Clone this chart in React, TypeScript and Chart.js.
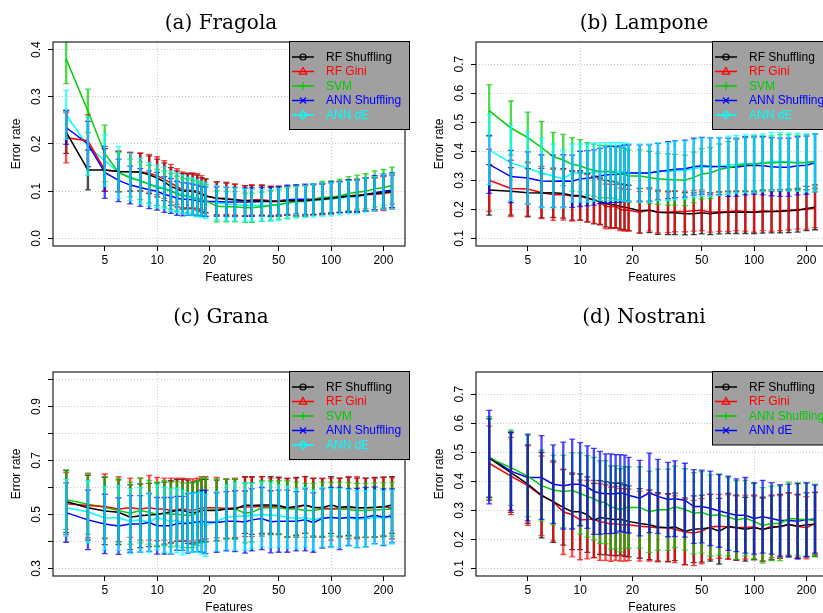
import React, { useEffect, useRef } from 'react';
import { Chart, registerables } from 'chart.js';

Chart.register(...registerables);

// ---------------- DATA ----------------
const FEATURES = [3, 4, 5, 6, 7, 8, 9, 10, 11, 12, 13, 14, 15, 16, 17, 18, 19, 22, 25, 28, 32, 35, 40, 45, 50, 56, 63, 71, 79, 89, 100, 112, 126, 141, 158, 178, 200, 224];
const X_TICKS = [5, 10, 20, 50, 100, 200];
const X_GRID = [10, 100];

// (a) Fragola
const FRAGOLA_RF_SHUFFLING = [0.225, 0.145, 0.145, 0.142, 0.141, 0.140, 0.135, 0.128, 0.120, 0.110, 0.105, 0.100, 0.100, 0.100, 0.097, 0.093, 0.090, 0.085, 0.083, 0.082, 0.080, 0.080, 0.080, 0.078, 0.078, 0.080, 0.080, 0.080, 0.082, 0.083, 0.085, 0.087, 0.090, 0.090, 0.093, 0.095, 0.097, 0.100];
const FRAGOLA_RF_SHUFFLING_SD = [0.045, 0.042, 0.045, 0.043, 0.041, 0.040, 0.040, 0.040, 0.040, 0.040, 0.038, 0.038, 0.037, 0.037, 0.037, 0.036, 0.036, 0.035, 0.034, 0.033, 0.032, 0.032, 0.032, 0.032, 0.031, 0.031, 0.032, 0.032, 0.032, 0.032, 0.033, 0.033, 0.034, 0.034, 0.035, 0.035, 0.036, 0.036];
const FRAGOLA_RF_GINI = [0.213, 0.207, 0.145, 0.142, 0.141, 0.141, 0.138, 0.133, 0.125, 0.117, 0.110, 0.103, 0.102, 0.102, 0.100, 0.097, 0.090, 0.085, 0.085, 0.082, 0.080, 0.082, 0.082, 0.080, 0.080, 0.080, 0.080, 0.080, 0.082, 0.083, 0.085, 0.088, 0.090, 0.092, 0.093, 0.093, 0.095, 0.098];
const FRAGOLA_RF_GINI_SD = [0.053, 0.055, 0.045, 0.043, 0.041, 0.040, 0.040, 0.040, 0.040, 0.040, 0.038, 0.038, 0.037, 0.037, 0.037, 0.036, 0.036, 0.035, 0.034, 0.033, 0.032, 0.032, 0.032, 0.031, 0.031, 0.031, 0.032, 0.032, 0.032, 0.033, 0.033, 0.033, 0.034, 0.034, 0.035, 0.035, 0.036, 0.036];
const FRAGOLA_SVM = [0.380, 0.270, 0.180, 0.140, 0.128, 0.122, 0.115, 0.108, 0.105, 0.100, 0.095, 0.090, 0.090, 0.087, 0.085, 0.082, 0.080, 0.068, 0.067, 0.067, 0.065, 0.065, 0.067, 0.070, 0.072, 0.075, 0.078, 0.080, 0.083, 0.087, 0.088, 0.090, 0.095, 0.098, 0.100, 0.105, 0.108, 0.112];
const FRAGOLA_SVM_SD = [0.052, 0.046, 0.060, 0.042, 0.040, 0.040, 0.040, 0.038, 0.038, 0.038, 0.037, 0.037, 0.036, 0.036, 0.035, 0.035, 0.034, 0.033, 0.032, 0.032, 0.031, 0.031, 0.031, 0.031, 0.031, 0.032, 0.032, 0.033, 0.033, 0.034, 0.034, 0.035, 0.036, 0.036, 0.037, 0.038, 0.038, 0.039];
const FRAGOLA_ANN_SHUFFLING = [0.235, 0.200, 0.140, 0.123, 0.113, 0.108, 0.103, 0.100, 0.093, 0.090, 0.085, 0.083, 0.083, 0.082, 0.080, 0.078, 0.078, 0.078, 0.077, 0.077, 0.077, 0.077, 0.078, 0.078, 0.080, 0.082, 0.083, 0.083, 0.083, 0.085, 0.087, 0.088, 0.090, 0.090, 0.093, 0.097, 0.100, 0.102];
const FRAGOLA_ANN_SHUFFLING_SD = [0.036, 0.048, 0.055, 0.045, 0.040, 0.040, 0.040, 0.040, 0.038, 0.037, 0.036, 0.035, 0.034, 0.033, 0.033, 0.032, 0.031, 0.031, 0.031, 0.031, 0.030, 0.030, 0.030, 0.030, 0.030, 0.031, 0.031, 0.032, 0.032, 0.032, 0.033, 0.033, 0.034, 0.034, 0.035, 0.036, 0.036, 0.037];
const FRAGOLA_ANN_DE = [0.262, 0.195, 0.165, 0.140, 0.130, 0.122, 0.115, 0.110, 0.107, 0.100, 0.097, 0.093, 0.090, 0.088, 0.085, 0.083, 0.080, 0.075, 0.073, 0.072, 0.070, 0.070, 0.070, 0.070, 0.072, 0.075, 0.077, 0.078, 0.080, 0.082, 0.083, 0.085, 0.087, 0.088, 0.092, 0.095, 0.098, 0.100];
const FRAGOLA_ANN_DE_SD = [0.052, 0.062, 0.055, 0.055, 0.050, 0.048, 0.046, 0.045, 0.044, 0.043, 0.042, 0.041, 0.040, 0.040, 0.039, 0.038, 0.038, 0.037, 0.036, 0.035, 0.035, 0.034, 0.034, 0.034, 0.034, 0.034, 0.034, 0.034, 0.035, 0.035, 0.035, 0.035, 0.035, 0.036, 0.036, 0.036, 0.037, 0.037];

// (b) Lampone
const LAMPONE_RF_SHUFFLING = [0.267, 0.262, 0.257, 0.256, 0.257, 0.255, 0.248, 0.248, 0.240, 0.232, 0.228, 0.220, 0.217, 0.215, 0.210, 0.207, 0.205, 0.195, 0.197, 0.190, 0.188, 0.188, 0.185, 0.185, 0.188, 0.185, 0.188, 0.190, 0.190, 0.190, 0.190, 0.192, 0.193, 0.193, 0.195, 0.197, 0.203, 0.207];
const LAMPONE_RF_SHUFFLING_SD = [0.087, 0.082, 0.083, 0.085, 0.085, 0.085, 0.085, 0.085, 0.083, 0.082, 0.080, 0.080, 0.080, 0.079, 0.078, 0.078, 0.078, 0.077, 0.077, 0.076, 0.075, 0.075, 0.073, 0.072, 0.072, 0.072, 0.072, 0.073, 0.073, 0.073, 0.073, 0.074, 0.074, 0.074, 0.075, 0.075, 0.076, 0.077];
const LAMPONE_RF_GINI = [0.300, 0.272, 0.270, 0.258, 0.250, 0.250, 0.245, 0.245, 0.238, 0.232, 0.225, 0.210, 0.210, 0.210, 0.200, 0.197, 0.197, 0.190, 0.198, 0.190, 0.190, 0.193, 0.193, 0.195, 0.197, 0.190, 0.192, 0.192, 0.195, 0.193, 0.190, 0.195, 0.193, 0.195, 0.197, 0.200, 0.200, 0.205];
const LAMPONE_RF_GINI_SD = [0.107, 0.097, 0.093, 0.090, 0.088, 0.087, 0.085, 0.083, 0.082, 0.080, 0.078, 0.077, 0.076, 0.075, 0.073, 0.072, 0.072, 0.072, 0.072, 0.071, 0.070, 0.070, 0.070, 0.070, 0.070, 0.068, 0.068, 0.068, 0.068, 0.068, 0.068, 0.068, 0.068, 0.068, 0.068, 0.068, 0.068, 0.068];
const LAMPONE_SVM = [0.540, 0.480, 0.447, 0.413, 0.382, 0.370, 0.355, 0.350, 0.340, 0.335, 0.330, 0.330, 0.330, 0.325, 0.322, 0.320, 0.315, 0.315, 0.310, 0.305, 0.303, 0.302, 0.300, 0.310, 0.322, 0.325, 0.337, 0.343, 0.350, 0.355, 0.355, 0.360, 0.360, 0.362, 0.362, 0.360, 0.362, 0.365];
const LAMPONE_SVM_SD = [0.089, 0.093, 0.088, 0.090, 0.083, 0.088, 0.092, 0.090, 0.090, 0.090, 0.090, 0.090, 0.090, 0.090, 0.090, 0.090, 0.090, 0.090, 0.090, 0.088, 0.088, 0.087, 0.087, 0.087, 0.087, 0.088, 0.088, 0.090, 0.090, 0.092, 0.092, 0.093, 0.093, 0.095, 0.095, 0.095, 0.095, 0.095];
const LAMPONE_ANN_SHUFFLING = [0.355, 0.313, 0.308, 0.298, 0.297, 0.298, 0.297, 0.305, 0.307, 0.310, 0.315, 0.318, 0.320, 0.320, 0.322, 0.325, 0.325, 0.325, 0.325, 0.330, 0.335, 0.338, 0.340, 0.347, 0.350, 0.348, 0.348, 0.345, 0.345, 0.350, 0.352, 0.350, 0.347, 0.345, 0.345, 0.350, 0.352, 0.360];
const LAMPONE_ANN_SHUFFLING_SD = [0.100, 0.090, 0.090, 0.090, 0.090, 0.090, 0.090, 0.095, 0.095, 0.095, 0.095, 0.097, 0.097, 0.097, 0.097, 0.097, 0.097, 0.097, 0.097, 0.097, 0.098, 0.098, 0.098, 0.098, 0.098, 0.098, 0.098, 0.100, 0.100, 0.100, 0.100, 0.100, 0.100, 0.100, 0.100, 0.100, 0.100, 0.100];
const LAMPONE_ANN_DE = [0.405, 0.360, 0.342, 0.325, 0.315, 0.305, 0.325, 0.325, 0.325, 0.328, 0.330, 0.330, 0.330, 0.330, 0.330, 0.328, 0.327, 0.325, 0.325, 0.330, 0.330, 0.333, 0.335, 0.340, 0.345, 0.345, 0.348, 0.352, 0.355, 0.357, 0.357, 0.360, 0.365, 0.365, 0.363, 0.362, 0.360, 0.360];
const LAMPONE_ANN_DE_SD = [0.120, 0.130, 0.125, 0.120, 0.110, 0.100, 0.100, 0.100, 0.100, 0.100, 0.100, 0.100, 0.100, 0.100, 0.100, 0.100, 0.100, 0.100, 0.100, 0.100, 0.100, 0.100, 0.100, 0.100, 0.100, 0.100, 0.100, 0.100, 0.100, 0.100, 0.100, 0.100, 0.100, 0.100, 0.100, 0.100, 0.100, 0.100];

// (c) Grana
const GRANA_RF_SHUFFLING = [0.548, 0.525, 0.513, 0.508, 0.490, 0.495, 0.498, 0.500, 0.505, 0.510, 0.515, 0.515, 0.510, 0.505, 0.510, 0.515, 0.515, 0.515, 0.520, 0.520, 0.535, 0.533, 0.535, 0.535, 0.533, 0.525, 0.530, 0.535, 0.527, 0.525, 0.535, 0.527, 0.530, 0.525, 0.525, 0.527, 0.528, 0.535];
const GRANA_RF_SHUFFLING_SD = [0.115, 0.120, 0.125, 0.120, 0.120, 0.118, 0.117, 0.117, 0.115, 0.115, 0.115, 0.115, 0.117, 0.115, 0.115, 0.115, 0.115, 0.112, 0.110, 0.110, 0.105, 0.107, 0.105, 0.105, 0.105, 0.108, 0.107, 0.105, 0.107, 0.108, 0.105, 0.108, 0.108, 0.110, 0.110, 0.110, 0.110, 0.105];
const GRANA_RF_GINI = [0.540, 0.533, 0.530, 0.520, 0.525, 0.520, 0.525, 0.520, 0.520, 0.515, 0.518, 0.520, 0.518, 0.515, 0.520, 0.523, 0.525, 0.525, 0.522, 0.525, 0.528, 0.528, 0.530, 0.530, 0.530, 0.525, 0.525, 0.535, 0.525, 0.525, 0.520, 0.525, 0.525, 0.525, 0.525, 0.525, 0.530, 0.523];
const GRANA_RF_GINI_SD = [0.115, 0.120, 0.120, 0.120, 0.110, 0.115, 0.120, 0.117, 0.115, 0.120, 0.117, 0.115, 0.115, 0.117, 0.115, 0.117, 0.115, 0.112, 0.110, 0.110, 0.110, 0.110, 0.110, 0.105, 0.105, 0.110, 0.110, 0.105, 0.110, 0.110, 0.115, 0.110, 0.115, 0.115, 0.110, 0.110, 0.108, 0.113];
const GRANA_SVM = [0.555, 0.538, 0.527, 0.515, 0.505, 0.515, 0.508, 0.500, 0.505, 0.500, 0.503, 0.497, 0.497, 0.497, 0.505, 0.515, 0.517, 0.517, 0.520, 0.520, 0.505, 0.508, 0.525, 0.525, 0.525, 0.520, 0.520, 0.515, 0.515, 0.520, 0.520, 0.520, 0.518, 0.515, 0.515, 0.517, 0.518, 0.520];
const GRANA_SVM_SD = [0.110, 0.112, 0.113, 0.120, 0.115, 0.120, 0.118, 0.120, 0.120, 0.120, 0.120, 0.120, 0.120, 0.120, 0.120, 0.120, 0.120, 0.115, 0.110, 0.110, 0.110, 0.110, 0.100, 0.100, 0.100, 0.105, 0.100, 0.100, 0.100, 0.100, 0.100, 0.100, 0.100, 0.100, 0.100, 0.100, 0.100, 0.100];
const GRANA_ANN_SHUFFLING = [0.507, 0.480, 0.465, 0.457, 0.465, 0.465, 0.470, 0.458, 0.458, 0.458, 0.467, 0.467, 0.467, 0.470, 0.472, 0.475, 0.472, 0.470, 0.475, 0.475, 0.472, 0.480, 0.485, 0.473, 0.475, 0.475, 0.475, 0.480, 0.470, 0.485, 0.490, 0.485, 0.490, 0.487, 0.490, 0.497, 0.490, 0.495];
const GRANA_ANN_SHUFFLING_SD = [0.110, 0.110, 0.110, 0.105, 0.105, 0.105, 0.107, 0.105, 0.105, 0.105, 0.100, 0.100, 0.110, 0.110, 0.110, 0.115, 0.117, 0.110, 0.110, 0.113, 0.115, 0.115, 0.115, 0.115, 0.115, 0.115, 0.110, 0.115, 0.110, 0.110, 0.110, 0.115, 0.105, 0.110, 0.110, 0.105, 0.105, 0.100];
const GRANA_ANN_DE = [0.525, 0.510, 0.487, 0.487, 0.475, 0.480, 0.470, 0.490, 0.480, 0.475, 0.478, 0.470, 0.470, 0.470, 0.470, 0.467, 0.460, 0.475, 0.490, 0.493, 0.493, 0.495, 0.500, 0.497, 0.495, 0.490, 0.485, 0.490, 0.480, 0.490, 0.487, 0.487, 0.487, 0.483, 0.483, 0.490, 0.487, 0.490];
const GRANA_ANN_DE_SD = [0.105, 0.115, 0.117, 0.120, 0.120, 0.120, 0.110, 0.120, 0.120, 0.120, 0.120, 0.120, 0.110, 0.110, 0.110, 0.115, 0.115, 0.110, 0.120, 0.125, 0.125, 0.120, 0.120, 0.120, 0.115, 0.115, 0.110, 0.110, 0.110, 0.110, 0.110, 0.110, 0.105, 0.105, 0.105, 0.100, 0.100, 0.100];

// (d) Nostrani
const NOSTRANI_RF_SHUFFLING = [0.480, 0.430, 0.390, 0.352, 0.330, 0.310, 0.295, 0.295, 0.285, 0.265, 0.275, 0.273, 0.270, 0.268, 0.270, 0.265, 0.262, 0.255, 0.250, 0.243, 0.240, 0.243, 0.228, 0.235, 0.237, 0.240, 0.228, 0.245, 0.240, 0.235, 0.240, 0.235, 0.240, 0.245, 0.250, 0.245, 0.250, 0.252];
const NOSTRANI_RF_SHUFFLING_SD = [0.135, 0.137, 0.135, 0.147, 0.140, 0.130, 0.130, 0.130, 0.130, 0.128, 0.127, 0.126, 0.125, 0.125, 0.124, 0.123, 0.122, 0.120, 0.120, 0.118, 0.117, 0.116, 0.115, 0.115, 0.115, 0.115, 0.113, 0.113, 0.112, 0.110, 0.110, 0.110, 0.110, 0.110, 0.110, 0.110, 0.110, 0.110];
const NOSTRANI_RF_GINI = [0.462, 0.418, 0.385, 0.350, 0.330, 0.295, 0.285, 0.267, 0.268, 0.270, 0.260, 0.258, 0.252, 0.255, 0.250, 0.250, 0.250, 0.245, 0.243, 0.240, 0.240, 0.235, 0.225, 0.222, 0.228, 0.243, 0.245, 0.243, 0.240, 0.242, 0.243, 0.233, 0.245, 0.243, 0.252, 0.245, 0.240, 0.255];
const NOSTRANI_RF_GINI_SD = [0.128, 0.133, 0.137, 0.137, 0.135, 0.147, 0.145, 0.137, 0.135, 0.133, 0.132, 0.130, 0.128, 0.127, 0.125, 0.125, 0.123, 0.120, 0.118, 0.117, 0.116, 0.115, 0.113, 0.112, 0.112, 0.112, 0.110, 0.110, 0.110, 0.110, 0.110, 0.108, 0.108, 0.108, 0.108, 0.107, 0.107, 0.107];
const NOSTRANI_ANN_SHUFFLING = [0.480, 0.447, 0.418, 0.385, 0.370, 0.365, 0.368, 0.358, 0.348, 0.340, 0.328, 0.328, 0.310, 0.310, 0.300, 0.310, 0.310, 0.310, 0.295, 0.302, 0.302, 0.312, 0.303, 0.290, 0.293, 0.282, 0.285, 0.278, 0.267, 0.273, 0.262, 0.248, 0.255, 0.255, 0.272, 0.270, 0.268, 0.265];
const NOSTRANI_ANN_SHUFFLING_SD = [0.142, 0.130, 0.140, 0.122, 0.120, 0.125, 0.130, 0.140, 0.140, 0.142, 0.142, 0.143, 0.143, 0.143, 0.143, 0.140, 0.140, 0.140, 0.140, 0.140, 0.140, 0.140, 0.140, 0.140, 0.140, 0.140, 0.140, 0.135, 0.135, 0.130, 0.130, 0.130, 0.128, 0.128, 0.125, 0.125, 0.125, 0.125];
const NOSTRANI_ANN_DE = [0.483, 0.435, 0.413, 0.413, 0.390, 0.385, 0.390, 0.390, 0.380, 0.365, 0.360, 0.357, 0.357, 0.357, 0.360, 0.357, 0.352, 0.342, 0.360, 0.348, 0.337, 0.340, 0.335, 0.313, 0.313, 0.307, 0.298, 0.290, 0.283, 0.283, 0.272, 0.278, 0.272, 0.265, 0.265, 0.262, 0.268, 0.270];
const NOSTRANI_ANN_DE_SD = [0.161, 0.135, 0.149, 0.144, 0.135, 0.150, 0.155, 0.143, 0.142, 0.148, 0.143, 0.137, 0.137, 0.135, 0.132, 0.133, 0.130, 0.130, 0.137, 0.127, 0.128, 0.130, 0.127, 0.127, 0.125, 0.128, 0.125, 0.128, 0.125, 0.130, 0.123, 0.125, 0.123, 0.123, 0.125, 0.130, 0.127, 0.117];

const Y_TICKS_A = [0.0, 0.1, 0.2, 0.3, 0.4];
const Y_LABELS_A = ['0.0', '0.1', '0.2', '0.3', '0.4'];
const Y_TICKS_B = [0.1, 0.2, 0.3, 0.4, 0.5, 0.6, 0.7];
const Y_LABELS_B = ['0.1', '0.2', '0.3', '0.4', '0.5', '0.6', '0.7'];
const Y_TICKS_C = [0.3, 0.4, 0.5, 0.6, 0.7, 0.8, 0.9, 1.0];
const Y_LABELS_C = ['0.3', '', '0.5', '', '0.7', '', '0.9', ''];

// ---------------- STYLE ----------------
const BLACK = '#000000';
const RED = '#FF0000';
const GREEN = '#00CD00';
const BLUE = '#0000FF';
const CYAN = '#00FFFF';
const SANS = "'Liberation Sans', Arial, Helvetica, sans-serif";
const SERIF = "'DejaVu Serif', serif";

type Series = { label: string; color: string; marker: string; mean: number[]; sd: number[] };
type PanelCfg = {
  title: string; left: number; top: number; width: number; height: number; areaTop: number; titleY: number;
  yMin: number; yMax: number; yTicks: number[]; yLabels: string[]; series: Series[];
};

const PANELS: PanelCfg[] = [
  {
    title: '(a) Fragola', left: 0, top: 0, width: 423, height: 300, areaTop: 42, titleY: 24,
    yMin: -0.016, yMax: 0.416, yTicks: Y_TICKS_A, yLabels: Y_LABELS_A,
    series: [
      { label: 'RF Shuffling', color: BLACK, marker: 'circle', mean: FRAGOLA_RF_SHUFFLING, sd: FRAGOLA_RF_SHUFFLING_SD },
      { label: 'RF Gini', color: RED, marker: 'triangle', mean: FRAGOLA_RF_GINI, sd: FRAGOLA_RF_GINI_SD },
      { label: 'SVM', color: GREEN, marker: 'plus', mean: FRAGOLA_SVM, sd: FRAGOLA_SVM_SD },
      { label: 'ANN Shuffling', color: BLUE, marker: 'cross', mean: FRAGOLA_ANN_SHUFFLING, sd: FRAGOLA_ANN_SHUFFLING_SD },
      { label: 'ANN dE', color: CYAN, marker: 'diamond', mean: FRAGOLA_ANN_DE, sd: FRAGOLA_ANN_DE_SD },
    ],
  },
  {
    title: '(b) Lampone', left: 423, top: 0, width: 423, height: 300, areaTop: 42, titleY: 24,
    yMin: 0.074, yMax: 0.776, yTicks: Y_TICKS_B, yLabels: Y_LABELS_B,
    series: [
      { label: 'RF Shuffling', color: BLACK, marker: 'circle', mean: LAMPONE_RF_SHUFFLING, sd: LAMPONE_RF_SHUFFLING_SD },
      { label: 'RF Gini', color: RED, marker: 'triangle', mean: LAMPONE_RF_GINI, sd: LAMPONE_RF_GINI_SD },
      { label: 'SVM', color: GREEN, marker: 'plus', mean: LAMPONE_SVM, sd: LAMPONE_SVM_SD },
      { label: 'ANN Shuffling', color: BLUE, marker: 'cross', mean: LAMPONE_ANN_SHUFFLING, sd: LAMPONE_ANN_SHUFFLING_SD },
      { label: 'ANN dE', color: CYAN, marker: 'diamond', mean: LAMPONE_ANN_DE, sd: LAMPONE_ANN_DE_SD },
    ],
  },
  {
    title: '(c) Grana', left: 0, top: 300, width: 423, height: 313, areaTop: 72, titleY: 18,
    yMin: 0.272, yMax: 1.028, yTicks: Y_TICKS_C, yLabels: Y_LABELS_C,
    series: [
      { label: 'RF Shuffling', color: BLACK, marker: 'circle', mean: GRANA_RF_SHUFFLING, sd: GRANA_RF_SHUFFLING_SD },
      { label: 'RF Gini', color: RED, marker: 'triangle', mean: GRANA_RF_GINI, sd: GRANA_RF_GINI_SD },
      { label: 'SVM', color: GREEN, marker: 'plus', mean: GRANA_SVM, sd: GRANA_SVM_SD },
      { label: 'ANN Shuffling', color: BLUE, marker: 'cross', mean: GRANA_ANN_SHUFFLING, sd: GRANA_ANN_SHUFFLING_SD },
      { label: 'ANN dE', color: CYAN, marker: 'diamond', mean: GRANA_ANN_DE, sd: GRANA_ANN_DE_SD },
    ],
  },
  {
    title: '(d) Nostrani', left: 423, top: 300, width: 423, height: 313, areaTop: 72, titleY: 18,
    yMin: 0.074, yMax: 0.776, yTicks: Y_TICKS_B, yLabels: Y_LABELS_B,
    series: [
      { label: 'RF Shuffling', color: BLACK, marker: 'circle', mean: NOSTRANI_RF_SHUFFLING, sd: NOSTRANI_RF_SHUFFLING_SD },
      { label: 'RF Gini', color: RED, marker: 'triangle', mean: NOSTRANI_RF_GINI, sd: NOSTRANI_RF_GINI_SD },
      { label: 'ANN Shuffling', color: GREEN, marker: 'plus', mean: NOSTRANI_ANN_SHUFFLING, sd: NOSTRANI_ANN_SHUFFLING_SD },
      { label: 'ANN dE', color: BLUE, marker: 'cross', mean: NOSTRANI_ANN_DE, sd: NOSTRANI_ANN_DE_SD },
    ],
  },
];

function withAlpha(hex: string, a: number) {
  const r = parseInt(hex.slice(1, 3), 16), g = parseInt(hex.slice(3, 5), 16), b = parseInt(hex.slice(5, 7), 16);
  return `rgba(${r},${g},${b},${a})`;
}

function drawMarker(ctx: CanvasRenderingContext2D, kind: string, x: number, y: number, color: string) {
  ctx.save();
  ctx.strokeStyle = color;
  ctx.lineWidth = 1.2;
  ctx.beginPath();
  if (kind === 'circle') {
    ctx.arc(x, y, 3, 0, Math.PI * 2);
  } else if (kind === 'triangle') {
    ctx.moveTo(x, y - 4); ctx.lineTo(x + 3.8, y + 2.6); ctx.lineTo(x - 3.8, y + 2.6); ctx.closePath();
  } else if (kind === 'plus') {
    ctx.moveTo(x - 4, y); ctx.lineTo(x + 4, y); ctx.moveTo(x, y - 4); ctx.lineTo(x, y + 4);
  } else if (kind === 'cross') {
    ctx.moveTo(x - 3, y - 3); ctx.lineTo(x + 3, y + 3); ctx.moveTo(x - 3, y + 3); ctx.lineTo(x + 3, y - 3);
  } else if (kind === 'diamond') {
    ctx.moveTo(x, y - 4); ctx.lineTo(x + 4, y); ctx.lineTo(x, y + 4); ctx.lineTo(x - 4, y); ctx.closePath();
  }
  ctx.stroke();
  ctx.restore();
}

function makeDecor(cfg: PanelCfg) {
  return {
    id: 'decor',
    afterDatasetsDraw(chart: any) {
      const { ctx, chartArea } = chart;
      const xs = chart.scales.x, ys = chart.scales.y;
      ctx.save();
      ctx.beginPath();
      ctx.rect(chartArea.left, chartArea.top, chartArea.right - chartArea.left, chartArea.bottom - chartArea.top);
      ctx.clip();
      for (const s of cfg.series) {
        ctx.strokeStyle = withAlpha(s.color, 0.7);
        for (let i = 0; i < FEATURES.length; i++) {
          const px = xs.getPixelForValue(FEATURES[i]);
          const lo = ys.getPixelForValue(s.mean[i] - s.sd[i]);
          const hi = ys.getPixelForValue(s.mean[i] + s.sd[i]);
          ctx.lineWidth = 2.4;
          ctx.beginPath();
          ctx.moveTo(px, lo); ctx.lineTo(px, hi);
          ctx.stroke();
          ctx.lineWidth = 1.3;
          ctx.beginPath();
          ctx.moveTo(px - 3, lo); ctx.lineTo(px + 3, lo);
          ctx.moveTo(px - 3, hi); ctx.lineTo(px + 3, hi);
          ctx.stroke();
        }
      }
      ctx.restore();
    },
    afterDraw(chart: any) {
      const { ctx, chartArea } = chart;
      const ys = chart.scales.y;
      ctx.save();
      // frame
      ctx.strokeStyle = '#222';
      ctx.lineWidth = 1.2;
      ctx.strokeRect(chartArea.left, chartArea.top, chartArea.right - chartArea.left, chartArea.bottom - chartArea.top);
      // y tick labels (rotated)
      ctx.fillStyle = '#000';
      ctx.font = `12px ${SANS}`;
      ctx.textAlign = 'center';
      ctx.textBaseline = 'middle';
      cfg.yTicks.forEach((v, i) => {
        const lab = cfg.yLabels[i];
        if (!lab) return;
        const py = ys.getPixelForValue(v);
        ctx.save();
        ctx.translate(37, py);
        ctx.rotate(-Math.PI / 2);
        ctx.fillText(lab, 0, 0);
        ctx.restore();
      });
      // axis titles
      const midY = (chartArea.top + chartArea.bottom) / 2;
      ctx.save();
      ctx.translate(17, midY);
      ctx.rotate(-Math.PI / 2);
      ctx.fillText('Error rate', 0, 0);
      ctx.restore();
      ctx.fillText('Features', (chartArea.left + chartArea.right) / 2, chartArea.bottom + 31.5);
      // panel title
      ctx.font = `20px ${SERIF}`;
      ctx.fillText(cfg.title, 221, cfg.titleY);
      // legend
      const n = cfg.series.length;
      const bx = 289.5, by = chartArea.top - 0.5, bw = 120, bh = 15.5 + 14.5 * n;
      ctx.fillStyle = '#A0A0A0';
      ctx.fillRect(bx, by, bw, bh);
      ctx.strokeStyle = '#000';
      ctx.lineWidth = 1;
      ctx.strokeRect(bx, by, bw, bh);
      ctx.font = `12px ${SANS}`;
      ctx.textAlign = 'left';
      cfg.series.forEach((s, i) => {
        const ry = by + 15.5 + 14.5 * i;
        ctx.strokeStyle = s.color;
        ctx.lineWidth = 1.5;
        ctx.beginPath();
        ctx.moveTo(292, ry); ctx.lineTo(314, ry);
        ctx.stroke();
        drawMarker(ctx, s.marker, 303, ry, s.color);
        ctx.fillStyle = s.color;
        ctx.fillText(s.label, 326, ry + 0.5);
      });
      ctx.restore();
    },
  };
}

function Panel({ cfg }: { cfg: PanelCfg }) {
  const ref = useRef<HTMLCanvasElement>(null);
  useEffect(() => {
    const xHeight = cfg.height - (cfg.areaTop + 204);
    const chart = new Chart(ref.current as HTMLCanvasElement, {
      type: 'line',
      data: {
        datasets: cfg.series.map((s) => ({
          label: s.label,
          data: FEATURES.map((x, i) => ({ x, y: s.mean[i] })),
          borderColor: s.color,
          backgroundColor: s.color,
          borderWidth: 1.5,
          pointRadius: 0,
          tension: 0,
          fill: false,
        })),
      },
      options: {
        animation: false,
        responsive: false,
        events: [],
        layout: { padding: { top: cfg.areaTop, right: 18, left: 0, bottom: 0 } },
        plugins: { legend: { display: false }, tooltip: { enabled: false }, title: { display: false } },
        scales: {
          x: {
            type: 'logarithmic',
            min: 2.52,
            max: 266,
            afterBuildTicks: (s: any) => { s.ticks = X_TICKS.map((v) => ({ value: v })); },
            afterFit: (s: any) => { s.height = xHeight; },
            border: { display: false, dash: [1, 2] },
            grid: {
              color: (c: any) => (c.tick && X_GRID.includes(c.tick.value) ? '#C8C8C8' : 'rgba(0,0,0,0)'),
              tickColor: '#000',
              tickLength: 5,
              tickWidth: 1,
              tickBorderDash: [],
              lineWidth: 1,
            },
            ticks: {
              autoSkip: false,
              maxRotation: 0,
              minRotation: 0,
              padding: 2,
              color: '#000',
              font: { family: SANS, size: 12 },
              callback: (v: any) => String(v),
            },
          },
          y: {
            type: 'linear',
            min: cfg.yMin,
            max: cfg.yMax,
            afterBuildTicks: (s: any) => { s.ticks = cfg.yTicks.map((v) => ({ value: v })); },
            afterFit: (s: any) => { s.width = 53; },
            border: { display: false, dash: [1, 2] },
            grid: { color: '#C8C8C8', tickColor: '#000', tickLength: 5, tickWidth: 1, tickBorderDash: [], lineWidth: 1 },
            ticks: { display: false },
          },
        },
      } as any,
      plugins: [makeDecor(cfg)],
    });
    return () => chart.destroy();
  }, []);
  return (
    <canvas
      ref={ref}
      width={cfg.width}
      height={cfg.height}
      style={{ position: 'absolute', left: cfg.left, top: cfg.top, width: cfg.width, height: cfg.height }}
    />
  );
}

export default function App() {
  return (
    <div style={{ position: 'absolute', left: 0, top: 0, width: 823, height: 613, overflow: 'hidden', background: '#fff' }}>
      {PANELS.map((p) => (
        <Panel key={p.title} cfg={p} />
      ))}
    </div>
  );
}
